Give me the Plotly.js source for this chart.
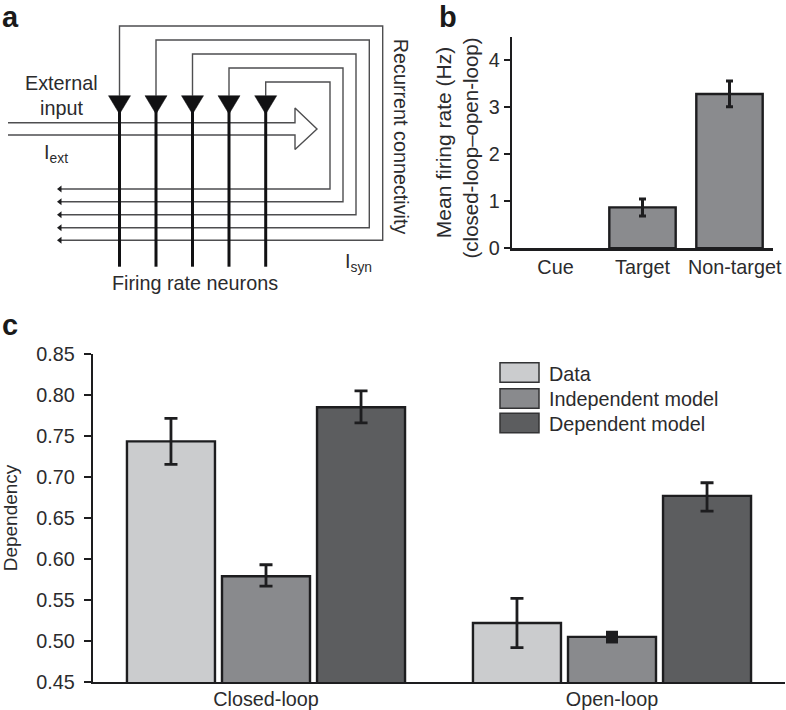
<!DOCTYPE html>
<html>
<head>
<meta charset="utf-8">
<script src="https://cdn.plot.ly/plotly-3.0.1.min.js"></script>
<style>html,body{margin:0;padding:0;background:#fff}#chart{width:786px;height:710px}</style>
</head>
<body>
<div id="chart"></div>
<script>
// Panel c data
const groups = ['Closed-loop', 'Open-loop'];
const seriesNames = ['Data', 'Independent model', 'Dependent model'];
const dataValues = [0.7435, 0.522];
const dataUpper = [0.7716, 0.552];
const dataLower = [0.7155, 0.492];
const indepValues = [0.579, 0.505];
const indepUpper = [0.593, 0.5125];
const indepLower = [0.567, 0.497];
const depValues = [0.785, 0.677];
const depUpper = [0.805, 0.693];
const depLower = [0.766, 0.6585];
const dependencyTicks = [0.45, 0.50, 0.55, 0.60, 0.65, 0.70, 0.75, 0.80, 0.85];

// Panel b data
const stimuli = ['Cue', 'Target', 'Non-target'];
const rateValues = [0, 0.87, 3.28];
const rateUpper = [null, 1.05, 3.56];
const rateLower = [null, 0.687, 3.01];
const rateTicks = [0, 1, 2, 3, 4];

// Panel a schematic (drawn on a page-sized hidden axis)
const neuronX = [119.5, 156, 192.5, 229, 265.7];
const loopTop = [26, 40, 54, 68, 82];
const loopRight = [382.7, 369.3, 356, 343, 330];
const loopBottom = [240.3, 227.7, 214.7, 201.7, 189];
const loopEndX = 59;

const ink = '#1d1d1f', wire = '#4e4e50', textInk = '#2b2b2d';
const fontFamily = '"Liberation Sans", Arial, sans-serif';
const fs = 19.8;
const fills = ['#cbccce', '#898a8d', '#5c5d5f'];

function errs(v, up, lo) {
  return {type:'data', symmetric:false,
    array: up.map((u,i)=>u===null ? NaN : +(u-v[i]).toFixed(4)),
    arrayminus: lo.map((l,i)=>l===null ? NaN : +(v[i]-l).toFixed(4)),
    color: ink, thickness: 2.8, width: 6.5};
}
function barTrace(name, v, up, lo, i) {
  return {type:'bar', name, x:groups, y:v, offsetgroup:String(i), xaxis:'x', yaxis:'y',
    marker:{color:fills[i], line:{color:ink, width:2.4}}, error_y:errs(v,up,lo), hoverinfo:'name+y'};
}
const traces = [
  barTrace(seriesNames[0], dataValues, dataUpper, dataLower, 0),
  barTrace(seriesNames[1], indepValues, [indepUpper[0], null], [indepLower[0], null], 1),
  barTrace(seriesNames[2], depValues, depUpper, depLower, 2),
  // the very small open-loop error bar reads as a solid block in the reference
  {type:'bar', x:groups, y:[null, indepValues[1]], offsetgroup:'1', xaxis:'x', yaxis:'y',
   marker:{color:'rgba(0,0,0,0)', line:{width:0}}, hoverinfo:'skip',
   error_y:{type:'data', symmetric:false, array:[0, indepUpper[1]-indepValues[1]],
            arrayminus:[0, indepValues[1]-indepLower[1]], color:ink, thickness:12, width:0}},
  {type:'bar', name:'Rate', x:stimuli, y:rateValues, xaxis:'x2', yaxis:'y2',
   marker:{color:'#8a8b8e', line:{color:ink, width:[0,2.4,2.4]}},
   error_y:Object.assign(errs(rateValues,rateUpper,rateLower), {width:3.5, thickness:3}), hoverinfo:'x+y'}
];

// schematic traces
function wireTrace(x, y, color, width, extra) {
  return Object.assign({type:'scatter', mode:'lines', x, y, xaxis:'x3', yaxis:'y3',
    line:{color, width, simplify:false}, hoverinfo:'skip'}, extra||{});
}
const triTop = 95.7, triBottom = 114, triHalf = 11;
const stemBottom = 266.7;
neuronX.forEach((nx,i)=>{
  traces.push(wireTrace([nx,nx,loopRight[i],loopRight[i],loopEndX],
                        [triTop,loopTop[i],loopTop[i],loopBottom[i],loopBottom[i]], wire, 1.4));
});
traces.push({type:'scatter', mode:'markers', x:loopBottom.map(()=>loopEndX+1), y:loopBottom,
  xaxis:'x3', yaxis:'y3', marker:{symbol:'triangle-left', size:6, color:ink}, hoverinfo:'skip'});
traces.push(wireTrace([8,295,295,317,295,295,8],[122.7,122.7,108,129,149.5,135,135], wire, 1.4));
neuronX.forEach(nx=>{
  traces.push(wireTrace([nx,nx],[triBottom-6,stemBottom], '#111113', 3));
  traces.push(wireTrace([nx-triHalf,nx+triHalf,nx,nx-triHalf],[triTop,triTop,triBottom,triTop], '#111113', 0.5,
    {fill:'toself', fillcolor:'#111113'}));
});

function note(text, x, y, o) {
  return Object.assign({text, x, y, xref:'x3', yref:'y3', showarrow:false, xanchor:'center', yanchor:'middle',
    font:{family:fontFamily, size:fs, color:textInk}}, o||{});
}
const bold = {font:{family:fontFamily, size:29, color:'#1a1a1a', weight:700}};
const annotations = [
  note('<b>a</b>', 10, 17, bold),
  note('<b>b</b>', 448, 17, bold),
  note('<b>c</b>', 10, 325, bold),
  note('External', 61, 83),
  note('input', 61, 108),
  note('I<sub>ext</sub>', 56, 153),
  note('Firing rate neurons', 195, 283),
  note('I<sub>syn</sub>', 358, 262),
  note('Recurrent connectivity', 401, 136.7, {textangle:90}),
  note('(closed-loop–open-loop)', 470, 148.5, {textangle:-90, font:{family:fontFamily, size:20.5, color:textInk}}),
  note(seriesNames[0], 546.7, 373.5, {xanchor:'left'}),
  note(seriesNames[1], 546.7, 399, {xanchor:'left'}),
  note(seriesNames[2], 546.7, 424, {xanchor:'left'})
];
const keyTop = [362.7, 388.7, 413.3];
const shapes = keyTop.map((t,i)=>({type:'rect', xref:'x3', yref:'y3', x0:500, x1:539, y0:t, y1:t+19.5,
  fillcolor:fills[i], line:{color:'#333335', width:1.5}}));

const W = 786, H = 710;
const axisLine = {showline:true, linecolor:ink, linewidth:2.2, showgrid:false, zeroline:false};
const tickFont = {family:fontFamily, size:fs, color:textInk};
const layout = {
  width:W, height:H, margin:{l:0,r:0,t:0,b:0}, paper_bgcolor:'#fff', plot_bgcolor:'rgba(0,0,0,0)',
  showlegend:false, barmode:'group', bargap:0.176, bargroupgap:0.074,
  font:{family:fontFamily, size:fs, color:textInk},
  xaxis:Object.assign({}, axisLine, {domain:[93/W,785/W], anchor:'y', type:'category', range:[-0.5,1.5],
    categoryorder:'array', categoryarray:groups, ticks:'', tickfont:tickFont, ticklabelstandoff:-2}),
  yaxis:Object.assign({}, axisLine, {domain:[1-682/H,1-354/H], anchor:'x', range:[0.45,0.85],
    tickmode:'array', tickvals:dependencyTicks, ticktext:dependencyTicks.map(v=>v.toFixed(2)),
    ticks:'outside', ticklen:7, tickwidth:2, tickcolor:ink, tickfont:tickFont, ticklabelstandoff:5,
    title:{text:'Dependency', font:{family:fontFamily, size:19, color:textInk}, standoff:15}}),
  xaxis2:Object.assign({}, axisLine, {domain:[512/W,773/W], anchor:'y2', type:'category', range:[-0.5,2.5],
    tickmode:'array', tickvals:[0,1,2.06], ticktext:stimuli, ticks:'', tickfont:tickFont}),
  yaxis2:Object.assign({}, axisLine, {domain:[1-248.3/H,1-36.7/H], anchor:'x2', range:[0,4.5],
    tickmode:'array', tickvals:rateTicks, ticks:'outside', ticklen:6, tickwidth:2, tickcolor:ink,
    tickfont:tickFont, ticklabelstandoff:0,
    title:{text:'Mean firing rate (Hz)', font:{family:fontFamily, size:21, color:textInk}, standoff:32}}),
  xaxis3:{domain:[0,1], range:[0,W], anchor:'y3', visible:false, fixedrange:true},
  yaxis3:{domain:[0,1], range:[H,0], anchor:'x3', visible:false, fixedrange:true},
  annotations, shapes
};
Plotly.newPlot('chart', traces, layout, {displayModeBar:false, staticPlot:true});
</script>
</body>
</html>
